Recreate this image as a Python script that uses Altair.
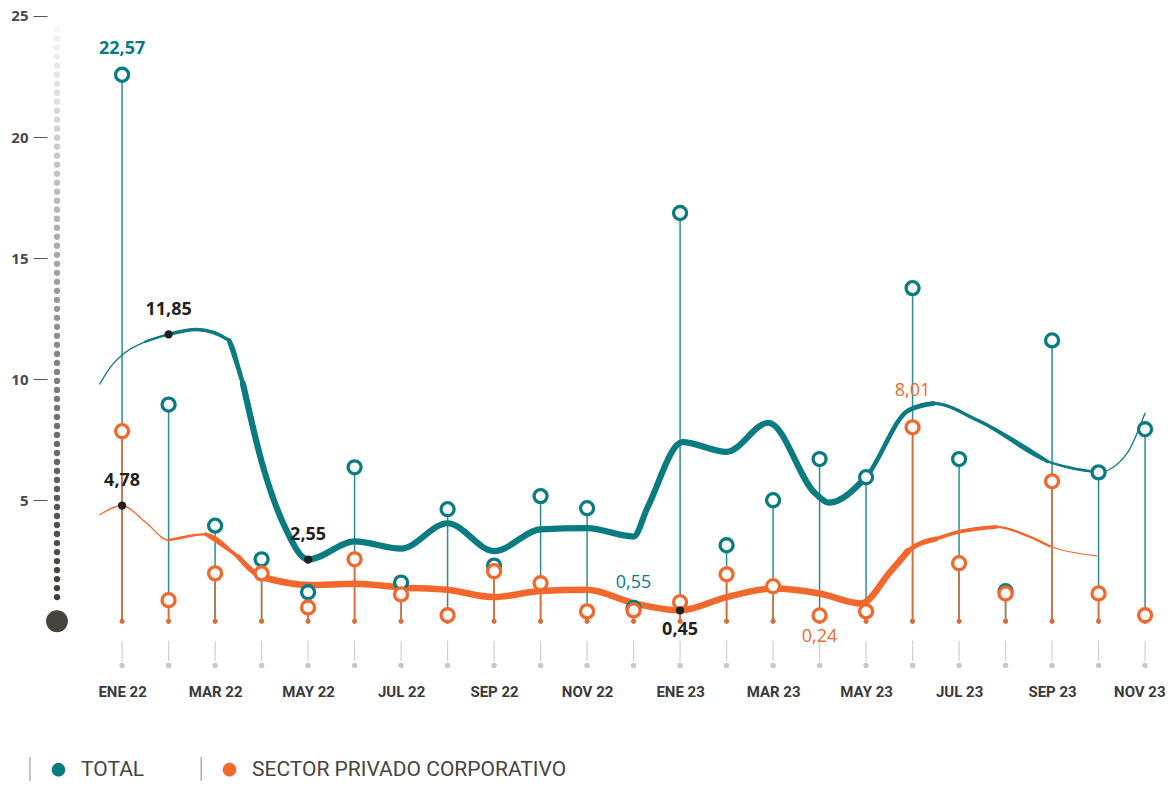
import altair as alt
import pandas as pd
import numpy as np

# ---------------- data ----------------
months = ["ENE 22", "FEB 22", "MAR 22", "ABR 22", "MAY 22", "JUN 22", "JUL 22", "AGO 22",
          "SEP 22", "OCT 22", "NOV 22", "DIC 22", "ENE 23", "FEB 23", "MAR 23", "ABR 23",
          "MAY 23", "JUN 23", "JUL 23", "AGO 23", "SEP 23", "OCT 23", "NOV 23"]
tick_labels = ["ENE 22", "MAR 22", "MAY 22", "JUL 22", "SEP 22", "NOV 22",
               "ENE 23", "MAR 23", "MAY 23", "JUL 23", "SEP 23", "NOV 23"]

total = [22.57, 8.95, 3.95, 2.56, 1.2, 6.36, 1.6, 4.63, 2.3, 5.17, 4.67, 0.55,
         16.86, 3.14, 5.0, 6.7, 5.95, 13.76, 6.7, 1.24, 11.6, 6.15, 7.93]
privado = [7.85, 0.87, 1.98, 1.98, 0.57, 2.56, 1.11, 0.25, 2.07, 1.57, 0.41, 0.45,
           0.79, 1.94, 1.45, 0.24, 0.41, 8.01, 2.4, 1.15, 5.78, 1.15, 0.25]

# smooth trend curves (position in months, value)
teal_x = [-0.48, -0.25, 0, 0.5, 1, 1.6, 2.3, 2.6, 3, 3.5, 4, 5, 6, 7, 8, 9, 10, 11, 11.3,
          12.05, 13, 13.9, 14.9, 15.2, 16, 16.9, 17.45, 18.4, 19.9, 21, 21.6, 22]
teal_v = [9.8, 10.5, 11.0, 11.55, 11.85, 12.05, 11.6, 9.8, 6.6, 3.9, 2.55, 3.3, 3.0, 4.05,
          2.9, 3.8, 3.85, 3.5, 4.7, 7.4, 7.0, 8.2, 5.3, 4.9, 5.95, 8.7, 9.0, 8.3, 6.6, 6.15,
          6.9, 8.6]
orange_x = [-0.48, 0, 0.5, 1, 1.8, 2.5, 3, 4, 5, 6, 7, 8, 9, 10, 11, 12, 13, 14, 15,
            15.9, 16.5, 16.9, 17.5, 17.9, 18.8, 19.45, 19.95, 20.96]
orange_v = [4.4, 4.78, 4.1, 3.35, 3.6, 2.66, 1.83, 1.5, 1.55, 1.4, 1.3, 1.0, 1.25, 1.3,
            0.75, 0.45, 1.0, 1.35, 1.15, 0.74, 2.0, 2.9, 3.4, 3.65, 3.9, 3.55, 3.1, 2.7]

# highlighted points on the curves
mark_x = [0, 1, 4, 12]
mark_v = [4.78, 11.85, 2.55, 0.45]

# value labels
lab_x = [0, 1, 0, 4, 11, 12, 15, 17]
lab_v = [22.57, 11.85, 4.78, 2.55, 0.55, 0.45, 0.24, 8.01]
lab_t = ["22,57", "11,85", "4,78", "2,55", "0,55", "0,45", "0,24", "8,01"]
lab_c = ["#0a7b81", "#231f20", "#231f20", "#231f20", "#0a7b81", "#231f20", "#f2682c", "#f2682c"]
lab_w = ["bold", "bold", "bold", "bold", "normal", "bold", "normal", "normal"]
lab_dy = [-26, -24, -25, -25, -25, 20, 22, -36]

series_names = ["TOTAL", "SECTOR PRIVADO CORPORATIVO"]

TEAL = "#0a7b81"
TEAL_STEM = "#2a8e93"
ORANGE = "#f2682c"
ORANGE_STEM = "#d96d3d"
DARK = "#231f20"
SANS = "Roboto, Open Sans, sans-serif"

# ---------------- frames ----------------
idx = list(range(len(months)))
df = pd.DataFrame({"i": idx, "month": months, "total": total, "privado": privado, "zero": 0.0})
teal_df = pd.DataFrame({"x": teal_x, "v": teal_v})
orange_df = pd.DataFrame({"x": orange_x, "v": orange_v})
mark_df = pd.DataFrame({"x": mark_x, "v": mark_v})
lab_df = pd.DataFrame({"x": lab_x, "v": lab_v, "t": lab_t})
leg_df = pd.DataFrame({"i": idx * 2, "zero": 0.0,
                       "series": [series_names[0]] * len(idx) + [series_names[1]] * len(idx)})

# decorative gradient dotted column
dot_y = np.arange(1.0, 24.7, 0.372)
dots_df = pd.DataFrame({"x": -1.4, "v": dot_y})

XMIN, XMAX = -1.4, 22.45
YMIN, YMAX = -2.3, 25.08
PXX, PXY = 46.5, 24.2
W = round((XMAX - XMIN) * PXX)
H = round((YMAX - YMIN) * PXY)

xs = alt.Scale(domain=[XMIN, XMAX], nice=False, zero=False)
ys = alt.Scale(domain=[YMIN, YMAX], nice=False, zero=False)

label_expr = "[" + ",".join("'%s'" % t for t in tick_labels) + "][datum.value/2]"
X = alt.X("i:Q", scale=xs, axis=alt.Axis(values=list(range(0, 23, 2)), labelExpr=label_expr,
                                         title=None, domain=False, ticks=False, grid=False,
                                         labelPadding=7, labelFontSize=15, labelColor="#3a3a3a",
                                         labelFont=SANS, labelFontWeight="bold",
                                         labelFlush=25, labelFlushOffset=20))
Y = alt.Y("zero:Q", scale=ys, axis=alt.Axis(values=[5, 10, 15, 20, 25], title=None, domain=False,
                                            grid=False, tickSize=14, tickColor="#555", tickWidth=1,
                                            offset=10, labelPadding=5, labelFontSize=15,
                                            labelColor="#4a4a4a", labelFont="Open Sans",
                                            labelFontWeight="bold"))

def xq(f):
    return alt.X(f, scale=xs, title=None)

def yq(f):
    return alt.Y(f, scale=ys, title=None)

base = alt.Chart(df)

# gray ticks under the plot
gray_ticks = alt.Chart(df).mark_rule(color="#cfcfd4", strokeWidth=1.2).encode(
    x=xq("i:Q"), y=alt.datum(-0.8), y2=alt.datum(-1.65))
gray_dots = alt.Chart(df).mark_circle(color="#c8c8cc", size=30, opacity=1).encode(
    x=xq("i:Q"), y=alt.datum(-1.82))

# dotted gradient column + big dot
dots = alt.Chart(dots_df).mark_circle(size=40, opacity=1).encode(
    x=xq("x:Q"), y=yq("v:Q"),
    fill=alt.Fill("v:Q", scale=alt.Scale(domain=[1, 24.6], range=["#3f3d38", "#f6f6f6"]), legend=None))
big_dot = alt.Chart(pd.DataFrame({"x": [-1.4], "v": [0.0]})).mark_circle(
    size=480, color="#47443e", opacity=1).encode(x=xq("x:Q"), y=yq("v:Q"))

# stems
teal_stem = base.mark_rule(color=TEAL_STEM, strokeWidth=1.5).encode(x=X, y=Y, y2="total:Q")
orange_stem = base.mark_rule(color=ORANGE_STEM, strokeWidth=1.6).encode(
    x=xq("i:Q"), y=yq("zero:Q"), y2="privado:Q")

# baseline dots (also drive the legend)
legend_dots = alt.Chart(leg_df).mark_circle(size=22, opacity=1).encode(
    x=xq("i:Q"), y=yq("zero:Q"),
    color=alt.Color("series:N", scale=alt.Scale(domain=series_names, range=[TEAL, ORANGE]),
                    legend=alt.Legend(title=None, orient="none", direction="horizontal",
                                      legendX=-9, legendY=H + 82, symbolType="circle",
                                      symbolSize=190, symbolOpacity=1, labelFontSize=21,
                                      labelColor="#47443e", labelOffset=12, columnPadding=74,
                                      labelFont=SANS, labelLimit=600)),
    order=alt.Order("series:N", sort="descending"))

def curve(d, color, width, lo, hi):
    sub = d[(d.x >= lo) & (d.x <= hi)]
    return alt.Chart(sub).mark_line(color=color, strokeWidth=width, interpolate="monotone",
                                    strokeCap="round").encode(x=xq("x:Q"), y=yq("v:Q"))

curves = [
    curve(teal_df, TEAL, 1.3, -1, 23),
    curve(teal_df, TEAL, 2.4, 0.5, 21),
    curve(teal_df, TEAL, 3.4, 1, 19.9),
    curve(teal_df, TEAL, 4.6, 2.3, 17.45),
    curve(teal_df, TEAL, 6.2, 2.6, 16.0),
    curve(orange_df, ORANGE, 1.3, -1, 23),
    curve(orange_df, ORANGE, 2.4, 1, 19.95),
    curve(orange_df, ORANGE, 3.6, 1.8, 18.8),
    curve(orange_df, ORANGE, 5.0, 2.5, 17.5),
    curve(orange_df, ORANGE, 6.5, 3, 16.9),
]

teal_circles = base.mark_point(shape="circle", size=170, fill="white", filled=False,
                               stroke=TEAL, strokeWidth=3.3, opacity=1).encode(
    x=xq("i:Q"), y=yq("total:Q"))
orange_circles = base.mark_point(shape="circle", size=170, fill="white", filled=False,
                                 stroke=ORANGE, strokeWidth=3.3, opacity=1).encode(
    x=xq("i:Q"), y=yq("privado:Q"))

black_dots = alt.Chart(mark_df).mark_circle(size=70, color=DARK, opacity=1).encode(
    x=xq("x:Q"), y=yq("v:Q"))

labels = []
for k in range(len(lab_t)):
    row = lab_df.iloc[[k]]
    labels.append(alt.Chart(row).mark_text(font="Open Sans", fontSize=18, fontWeight=lab_w[k],
                                           color=lab_c[k], dy=lab_dy[k], baseline="middle",
                                           align="center").encode(
        x=xq("x:Q"), y=yq("v:Q"), text="t:N"))

# legend separators
sep = alt.Chart(pd.DataFrame({"x": [-1.98, 1.70]})).mark_rule(color="#8a8a8a", strokeWidth=1).encode(
    x=xq("x:Q"), y=alt.datum(-5.6), y2=alt.datum(-7.1))

chart = alt.layer(
    teal_stem, gray_ticks, gray_dots, dots, big_dot, orange_stem, legend_dots,
    *curves, teal_circles, orange_circles, black_dots, *labels, sep
).properties(
    width=W, height=H, autosize=alt.AutoSizeParams(type="none"), background="white",
    padding={"left": 49, "top": 6, "right": max(0, 1158 - 49 - W), "bottom": 773 - 6 - H}
).configure_view(strokeWidth=0, stroke="transparent", clip=False).configure_axis(
    domain=False, grid=False)

chart.save("out.html", embed_options={"renderer": "svg", "actions": False})
